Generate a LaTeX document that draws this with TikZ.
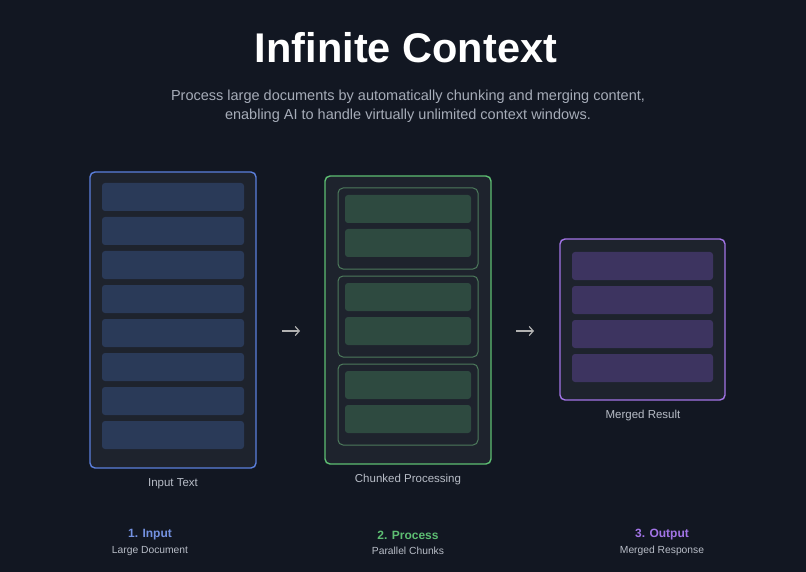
\documentclass[tikz,border=0pt]{standalone}
\usepackage{fontspec}
\setmainfont{Liberation Sans}
\usetikzlibrary{arrows.meta}
\definecolor{bg}{HTML}{121722}
\definecolor{panel}{HTML}{1E232D}
\definecolor{blueb}{HTML}{5B7FDC}
\definecolor{bluebar}{HTML}{2A3A58}
\definecolor{greenb}{HTML}{5DBE72}
\definecolor{greeng}{HTML}{4D7A5C}
\definecolor{greenbar}{HTML}{2E4A40}
\definecolor{purpb}{HTML}{A274E6}
\definecolor{purpbar}{HTML}{3D3460}
\definecolor{txtg}{HTML}{A6ACB8}
\definecolor{lab}{HTML}{B8BDC7}
\begin{document}
\begin{tikzpicture}[x=1pt,y=-1pt,
  outer/.style={draw=#1,line width=1.4pt,fill=panel,rounded corners=5pt},
  grp/.style={draw=greeng,line width=1pt,fill=panel,rounded corners=5pt},
  bar/.style={fill=#1,rounded corners=3pt},
  boxcaption/.style={text=lab,font=\fontsize{11.5}{13}\selectfont},
  stepname/.style={text=#1,font=\fontsize{12}{14}\selectfont\bfseries},
  stepsub/.style={text=lab,font=\fontsize{10.3}{12}\selectfont},
  arr/.style={draw=gray!60,line width=1.2pt,-{Straight Barb[length=4pt,width=9pt]}}]
\fill[bg] (0,0) rectangle (806,572);
\useasboundingbox (0,0) rectangle (806,572);
\node[text=white,font=\fontsize{41.5}{48}\selectfont\bfseries] (title) at (406,48) {Infinite Context};
\node[text=txtg,font=\fontsize{14.5}{19}\selectfont,align=center] (subt) at (408,106) {Process large documents by automatically chunking and merging content,\\enabling AI to handle virtually unlimited context windows.};
% input
\draw[outer=blueb] (90,172) rectangle (256,468);
\foreach \y in {183,217,251,285,319,353,387,421}
  \fill[bar=bluebar] (102,\y) rectangle (244,\y+28);
\node[boxcaption] (l1) at (173,484) {Input Text};
\coordinate (a1s) at (282,331); \coordinate (a1e) at (300,331);
\draw[arr] (a1s) -- (a1e);
% process
\draw[outer=greenb] (325,176) rectangle (491,464);
\foreach \g in {188,276,364}{
  \draw[grp] (338,\g) rectangle (478,\g+81);
  \fill[bar=greenbar] (345,\g+7) rectangle (471,\g+35);
  \fill[bar=greenbar] (345,\g+41) rectangle (471,\g+69);
}
\node[boxcaption] (l2) at (408,480) {Chunked Processing};
\coordinate (a2s) at (516,331); \coordinate (a2e) at (534,331);
\draw[arr] (a2s) -- (a2e);
% output
\draw[outer=purpb] (560,239) rectangle (725,400);
\foreach \y in {252,286,320,354}
  \fill[bar=purpbar] (572,\y) rectangle (713,\y+28);
\node[boxcaption] (l3) at (643,416) {Merged Result};
% steps
\node[stepname=blueb!85!white] (s1) at (150,535) {1. Input};
\node[stepsub] (d1) at (150,551) {Large Document};
\node[stepname=greenb] (s2) at (408,535) {2. Process};
\node[stepsub] (d2) at (408,551) {Parallel Chunks};
\node[stepname=purpb] (s3) at (662,535) {3. Output};
\node[stepsub] (d3) at (662,551) {Merged Response};
\end{tikzpicture}
\end{document}
